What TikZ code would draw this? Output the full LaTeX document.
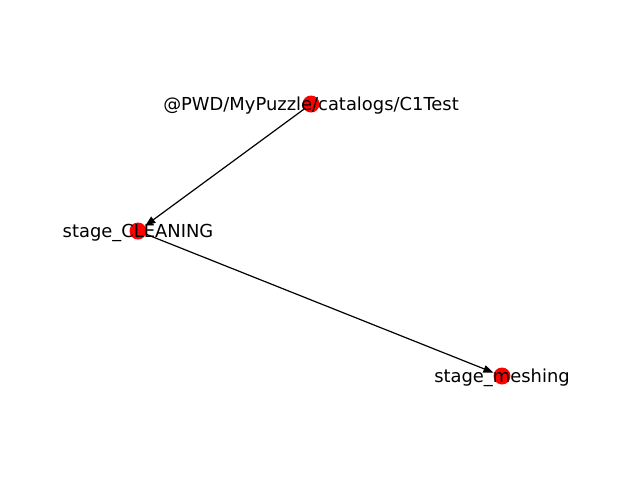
\documentclass[tikz,border=0pt]{standalone}
\usepackage{fontspec}
\setmainfont{DejaVu Sans}
\usetikzlibrary{arrows.meta}

\begin{document}
\begin{tikzpicture}[x=1pt,y=-1pt]
\tikzstyle{every node}=[inner sep=0pt];
\tikzstyle{stagedot}=[shape=circle,fill=red,minimum size=17pt];
\tikzstyle{stagetext}=[font=\fontsize{17.9}{21}\selectfont,yshift=-1.5pt];
\tikzstyle{flow}=[-{Triangle[length=10pt,width=7.5pt]},line width=1.2pt,shorten >=0.5pt];
\useasboundingbox (0,0) rectangle (640,480);
\node[stagedot] (catalog) at (311, 104) {};
\node[stagedot] (cleaning) at (138, 231) {};
\node[stagedot] (meshing) at (502, 376) {};
\draw [flow]  (catalog) -- (cleaning);
\draw [flow]  (cleaning) -- (meshing);
\node[stagetext] (catalog-txt) at (catalog) {@PWD/MyPuzzle/catalogs/C1Test};
\node[stagetext] (cleaning-txt) at (cleaning) {stage\_CLEANING};
\node[stagetext] (meshing-txt) at (meshing) {stage\_meshing};
\end{tikzpicture}
\end{document}
